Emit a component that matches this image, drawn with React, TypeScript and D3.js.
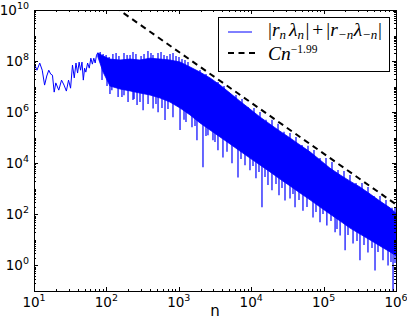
import { useEffect, useRef } from "react";
import * as d3 from "d3";

// low-n part, where single oscillations are still visible
const sparseN = [10, 11, 12, 13, 14, 15, 16, 17, 18, 19, 20, 22, 24, 26, 28, 30, 32, 34, 36, 38, 40, 42, 44, 46, 48, 50, 52, 55, 58, 61, 64, 67, 70, 73, 76];
const sparseV = [8.4e7, 4.4e7, 8.4e7, 4.4e7, 1.15e7, 2.6e7, 4.4e7, 3.1e7, 2.8e7, 6.1e6, 1.4e7, 7.3e6, 1.8e7, 1.15e7, 6.7e6, 1.8e7, 8.7e6, 7.0e7, 2.2e7, 8.4e7, 3.4e7, 9.1e7, 4.4e7, 9.1e7, 1.8e7, 5.3e7, 3.7e7, 8.4e7, 5.3e7, 1.3e8, 7.6e7, 1.3e8, 8.4e7, 1.7e8, 2.1e8];

// dense part: upper and lower edge of the solid band
const bandN = [76, 90, 112, 154, 212, 291, 400, 550, 755, 1040, 1430, 1960, 2700, 3710, 5100, 7000, 9620, 13200, 18200, 25000, 34400, 47200, 64900, 89200, 122000, 169000, 232000, 318000, 438000, 601000, 826000, 1000000];
const bandTop = [2.1e8, 1.6e8, 1.2e8, 1.1e8, 1.2e8, 1.1e8, 1.3e8, 1.2e8, 1.1e8, 9.2e7, 5.9e7, 3.7e7, 2.2e7, 1.16e7, 5.6e6, 2.7e6, 1.33e6, 6.5e5, 3.4e5, 1.8e5, 9.8e4, 5.2e4, 2.8e4, 1.35e4, 6.5e3, 3.5e3, 2.0e3, 1.18e3, 630, 330, 180, 110];
const bandBottom = [1.5e8, 3.7e7, 1.06e7, 8.1e6, 6.8e6, 5.6e6, 4.7e6, 3.6e6, 2.5e6, 1.46e6, 7.8e5, 3.8e5, 2.0e5, 1.07e5, 5.7e4, 3.0e4, 1.6e4, 8.6e3, 4.6e3, 2.4e3, 1.3e3, 690, 370, 195, 104, 55, 29, 17, 10, 5.8, 3.4, 2.4];

// downward spikes below the band
const dipN = [87, 102, 112, 119, 145, 164, 175, 199, 233, 241, 265, 291, 321, 376, 441, 484, 517, 586, 645, 709, 831, 1040, 1180, 1257, 1521, 1674, 1782, 2158, 2375, 2529, 2965, 3162, 3475, 4074, 4631, 5429, 6571, 7230, 8210, 9620, 10590, 11640, 12810, 14090, 15510, 17050, 19360, 22000, 24200, 26630, 29300, 34360, 37780, 40300, 45730, 51900, 58970, 71400, 78520, 89200, 98100, 111000, 126500, 144000, 153100, 169000, 198000, 217300, 255000, 289300, 318000, 361400, 410000, 466200, 513000, 564100, 661000, 776000, 852900, 910000, 968700];
const dipV = [1.8e7, 1.05e7, 5.2e6, 7.3e6, 3.9e6, 3.9e6, 4.6e6, 2.5e6, 3.0e6, 3.3e6, 1.9e6, 2.5e6, 1.2e6, 2.1e6, 1.4e6, 2.1e6, 1.0e6, 1.46e6, 4.9e5, 1.33e6, 6.4e5, 2.0e5, 5.0e5, 4.1e5, 2.6e5, 2.9e5, 8.0e4, 7.0e3, 1.17e5, 1.25e5, 8.0e4, 6.8e4, 3.2e4, 1.7e4, 2.8e4, 1.0e4, 2.8e3, 1.47e4, 8.4e3, 5.3e3, 7.8e3, 2.6e3, 4.6e3, 190, 2.9e3, 1.4e3, 870, 1.55e3, 560, 1.08e3, 350, 420, 630, 190, 366, 140, 195, 76, 124, 49, 104, 37, 55, 20, 27, 15, 3.9, 15.6, 7.3, 9.1, 1.6, 6.3, 3.2, 4.8, 0.64, 3.4, 1.6, 1.0, 1.37, 0.1, 1.25];

// upward peaks along the top of the band
const peakN = [82, 90, 99, 109, 123, 136, 149, 175, 193, 212, 233, 256, 301, 331, 375, 413, 440, 516, 568, 625, 687, 756, 832, 915, 1006, 1107, 1218, 1340, 1622, 1963, 2375, 2875, 3479, 4211, 5096, 6167, 7464, 9033, 10930, 13230, 16010, 19380, 23460, 28380, 34350, 41570, 50310, 60880, 73680, 89180, 107900, 130600, 158100, 191300, 231500, 280200, 339100, 410400, 496700, 601100, 727500, 880500, 969000];
const peakV = [2.27e8, 1.9e8, 1.73e8, 1.45e8, 1.9e8, 2.07e8, 1.58e8, 2.07e8, 1.73e8, 1.73e8, 2.27e8, 1.9e8, 1.58e8, 1.9e8, 2.48e8, 2.07e8, 1.73e8, 2.07e8, 2.27e8, 1.73e8, 1.58e8, 1.9e8, 2.07e8, 1.58e8, 1.45e8, 1.21e8, 1.1e8, 9.2e7, 4.5e7, 4.5e7, 3.1e7, 1.7e7, 1.52e7, 1.06e7, 5.2e6, 4.7e6, 3.3e6, 1.6e6, 1.46e6, 1.02e6, 5.0e5, 5.0e5, 3.5e5, 1.7e5, 1.54e5, 1.07e5, 5.2e4, 4.8e4, 3.3e4, 1.6e4, 1.6e4, 1.12e4, 5.5e3, 5.0e3, 3.5e3, 1.7e3, 1.7e3, 1.18e3, 525, 525, 366, 180, 195];

// fitted power law C n^-1.99
const fitC = 2.14e14;
const fitExp = -1.99;
const fitN = [100, 1000000];

const xMajor = [1e1, 1e2, 1e3, 1e4, 1e5, 1e6];
const yMajor = [1e0, 1e2, 1e4, 1e6, 1e8, 1e10];

const App = () => {
  const ref = useRef<SVGSVGElement>(null);

  useEffect(() => {
    const width = 407, height = 326;
    const left = 34, right = 396, top = 10, bottom = 291;
    const blue = "#0000ff";

    const svg = d3.select(ref.current)
      .html("")
      .attr("width", width)
      .attr("height", height);

    const x = d3.scaleLog().domain([10, 1e6]).range([left, right]);
    const y = d3.scaleLog().domain([1e-1, 1e10]).range([bottom, top]);

    svg.append("rect").attr("width", width).attr("height", height).attr("fill", "white");

    svg.append("defs").append("clipPath").attr("id", "plot")
      .append("rect")
      .attr("x", left).attr("y", top)
      .attr("width", right - left).attr("height", bottom - top);

    const g = svg.append("g").attr("clip-path", "url(#plot)");

    // sparse line
    const sparse = sparseN.map((n, i) => [n, sparseV[i]]);
    g.append("path")
      .attr("d", d3.line().x(d => x(d[0])).y(d => y(d[1]))(sparse))
      .attr("fill", "none")
      .attr("stroke", blue)
      .attr("stroke-width", 1);

    // dense band
    const band = bandN.map((n, i) => ({ n, t: bandTop[i], b: bandBottom[i] }));
    g.append("path")
      .attr("d", d3.area<any>().x(d => x(d.n)).y0(d => y(d.b)).y1(d => y(d.t))(band))
      .attr("fill", blue)
      .attr("stroke", blue)
      .attr("stroke-width", 0.8);

    const bottomAt = d3.scaleLog().domain(bandN).range(bandBottom.map(v => y(v))).clamp(true);
    const topAt = d3.scaleLog().domain(bandN).range(bandTop.map(v => y(v))).clamp(true);

    g.selectAll(".dip")
      .data(dipN.map((n, i) => ({ n, v: dipV[i] })))
      .join("line")
      .attr("x1", d => x(d.n)).attr("x2", d => x(d.n))
      .attr("y1", d => bottomAt(d.n) - 3)
      .attr("y2", d => y(d.v))
      .attr("stroke", blue)
      .attr("stroke-width", 1.2);

    g.selectAll(".peak")
      .data(peakN.map((n, i) => ({ n, v: peakV[i] })))
      .join("line")
      .attr("x1", d => x(d.n)).attr("x2", d => x(d.n))
      .attr("y1", d => topAt(d.n) + 3)
      .attr("y2", d => y(d.v))
      .attr("stroke", blue)
      .attr("stroke-width", 1.2);

    // power law fit
    const fit = fitN.map(n => [n, fitC * Math.pow(n, fitExp)]);
    g.append("path")
      .attr("d", d3.line().x(d => x(d[0])).y(d => y(d[1]))(fit))
      .attr("fill", "none")
      .attr("stroke", "black")
      .attr("stroke-width", 2)
      .attr("stroke-dasharray", "6,4.5");

    // ticks, inside on all four sides
    const xMinor: number[] = [];
    for (let e = 1; e < 6; e++) for (let k = 2; k < 10; k++) xMinor.push(k * Math.pow(10, e));
    const yMinor: number[] = [];
    for (let e = -1; e < 10; e++) for (let k = 1; k < 10; k++) {
      if (e >= 0 && k === 1 && e % 2 === 0) continue;
      if (e === -1 && k === 1) continue;
      yMinor.push(k * Math.pow(10, e));
    }

    const ticks = svg.append("g").attr("stroke", "black").attr("stroke-width", 1);
    const xt = (vals: number[], len: number) => {
      vals.forEach(v => {
        const px = Math.round(x(v)) + 0.5;
        ticks.append("line").attr("x1", px).attr("x2", px).attr("y1", bottom).attr("y2", bottom - len);
        ticks.append("line").attr("x1", px).attr("x2", px).attr("y1", top).attr("y2", top + len);
      });
    };
    const yt = (vals: number[], len: number) => {
      vals.forEach(v => {
        const py = Math.round(y(v)) + 0.5;
        ticks.append("line").attr("y1", py).attr("y2", py).attr("x1", left).attr("x2", left + len);
        ticks.append("line").attr("y1", py).attr("y2", py).attr("x1", right).attr("x2", right - len);
      });
    };
    xt(xMajor.slice(1, -1), 4);
    xt(xMinor, 2);
    yt(yMajor.slice(0, -1), 4);
    yt(yMinor, 2);

    svg.append("rect")
      .attr("x", left + 0.5).attr("y", top + 0.5)
      .attr("width", right - left).attr("height", bottom - top)
      .attr("fill", "none")
      .attr("stroke", "black")
      .attr("stroke-width", 1);

    // tick labels
    const labels = svg.append("g").attr("font-family", "DejaVu Sans").attr("font-size", 13.5).attr("fill", "black");
    const expOf = (v: number) => String(Math.round(Math.log10(v)));

    xMajor.forEach(v => {
      const t = labels.append("text").attr("x", x(v)).attr("y", 307).attr("text-anchor", "middle");
      t.append("tspan").text("10");
      t.append("tspan").attr("dy", -6).attr("font-size", 9.5).text(expOf(v));
    });
    yMajor.forEach(v => {
      const t = labels.append("text").attr("x", 29).attr("y", y(v) + 5).attr("text-anchor", "end");
      t.append("tspan").text("10");
      t.append("tspan").attr("dy", -6).attr("font-size", 9.5).text(expOf(v));
    });

    svg.append("text")
      .attr("x", (left + right) / 2)
      .attr("y", 316)
      .attr("text-anchor", "middle")
      .attr("font-family", "DejaVu Sans")
      .attr("font-size", 15)
      .text("n");

    // legend
    const lg = svg.append("g");
    lg.append("rect")
      .attr("x", 218.5).attr("y", 17.5)
      .attr("width", 171).attr("height", 54)
      .attr("fill", "white")
      .attr("stroke", "black")
      .attr("stroke-width", 1);
    lg.append("line").attr("x1", 228).attr("x2", 252).attr("y1", 32).attr("y2", 32)
      .attr("stroke", blue).attr("stroke-width", 1);
    lg.append("line").attr("x1", 228).attr("x2", 255).attr("y1", 53).attr("y2", 53)
      .attr("stroke", "black").attr("stroke-width", 2).attr("stroke-dasharray", "6,4.5");

    const t1 = lg.append("text")
      .attr("x", 268).attr("y", 35.5)
      .attr("font-family", "Liberation Serif")
      .attr("font-size", 19.5);
    const part = (s: string, italic: boolean, sub: number, dx = 0) => {
      t1.append("tspan")
        .attr("font-style", italic ? "italic" : "normal")
        .attr("font-size", sub > 0 ? 13 : 19.5)
        .attr("dy", sub)
        .attr("dx", dx)
        .text(s);
    };
    part("|", false, 0);
    part("r", true, 0);
    part("n", true, 3.5);
    part("λ", true, -3.5, 3);
    part("n", true, 3.5);
    part("|", false, -3.5, 1.5);
    part("+", false, 0, 3);
    part("|", false, 0, 3);
    part("r", true, 0);
    part("−n", true, 3.5);
    part("λ", true, -3.5, 0.5);
    part("−n", true, 3.5);
    part("|", false, -3.5, 0.5);

    const t2 = lg.append("text")
      .attr("x", 268).attr("y", 60)
      .attr("font-family", "Liberation Serif")
      .attr("font-size", 19.5);
    t2.append("tspan").attr("font-style", "italic").text("Cn");
    t2.append("tspan").attr("font-size", 11.5).attr("dy", -7).text("−1.99");
  }, []);

  return <svg ref={ref} style={{ position: "absolute", left: 0, top: 0 }}></svg>;
};

export default App;
